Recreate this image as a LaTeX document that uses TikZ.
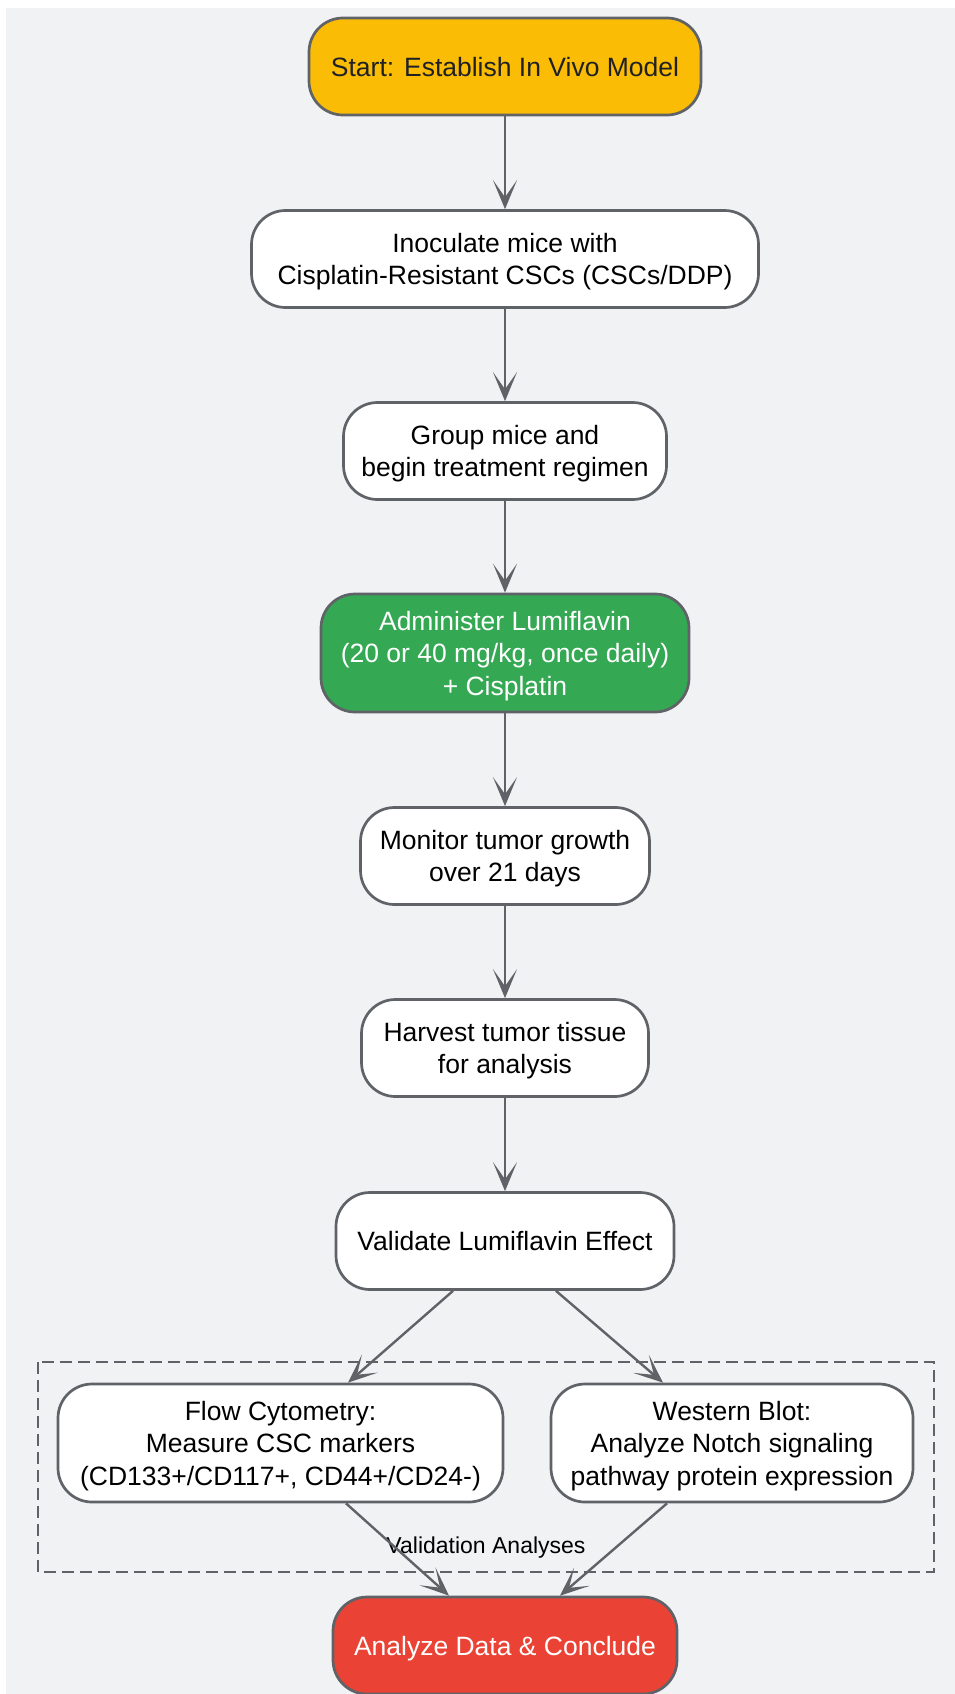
\documentclass[tikz,border=0pt]{standalone}
\usepackage{fontspec}
\setmainfont{Liberation Sans}
\usetikzlibrary{arrows.meta}
\definecolor{bgc}{HTML}{F1F2F4}
\definecolor{edge}{HTML}{5F6368}
\definecolor{startc}{HTML}{FBBC05}
\definecolor{greenc}{HTML}{34A853}
\definecolor{redc}{HTML}{EA4335}
\definecolor{txt}{HTML}{202124}
\tikzset{
  box/.style={draw=edge, line width=2.7pt, rounded corners=34pt, fill=white,
    align=center, inner sep=0pt, text=black, text depth=0pt,
    font=\fontsize{26.5}{32.4}\selectfont},
  conn/.style={draw=edge, line width=2.4pt,
    -{Stealth[length=29pt,width=24pt,inset=17pt]}},
}
\begin{document}
\begin{tikzpicture}[x=1pt,y=-1pt]
\useasboundingbox (0,0) rectangle (955,1694);
\fill[bgc] (6,8) rectangle (955,1694);
% dashed group
\draw[edge, line width=2.8pt, dash pattern=on 12pt off 6pt] (38,1362) rectangle (934,1572);
\node[font=\fontsize{23}{27}\selectfont, text=black] (lbl) at (486,1548) {Validation Analyses};
% nodes
\node[box, fill=startc, text=txt, minimum width=392pt, minimum height=97pt] (start) at (505,66.5) {Start: Establish In Vivo Model};
\node[box, minimum width=507pt, minimum height=97pt] (inoc) at (505,259) {Inoculate mice with\\Cisplatin-Resistant CSCs (CSCs/DDP)};
\node[box, minimum width=323pt, minimum height=97pt] (group) at (505,451) {Group mice and\\begin treatment regimen};
\node[box, fill=greenc, text=white, minimum width=368pt, minimum height=118pt] (admin) at (505,653) {Administer Lumiflavin\\(20 or 40 mg/kg, once daily)\\+ Cisplatin};
\node[box, minimum width=289pt, minimum height=97pt] (mon) at (505,856) {Monitor tumor growth\\over 21 days};
\node[box, minimum width=287pt, minimum height=97pt] (harv) at (505,1048) {Harvest tumor tissue\\for analysis};
\node[box, minimum width=338pt, minimum height=97pt] (val) at (505,1241) {Validate Lumiflavin Effect};
\node[box, minimum width=445pt, minimum height=118pt] (flow) at (280.5,1443) {Flow Cytometry:\\Measure CSC markers\\(CD133+/CD117+, CD44+/CD24-)};
\node[box, minimum width=362pt, minimum height=118pt] (wb) at (732,1443) {Western Blot:\\Analyze Notch signaling\\pathway protein expression};
\node[box, fill=redc, text=white, minimum width=344pt, minimum height=97pt] (end) at (505,1645.5) {Analyze Data \& Conclude};
% connectors
\draw[conn] (start) -- (inoc);
\draw[conn] (inoc) -- (group);
\draw[conn] (group) -- (admin);
\draw[conn] (admin) -- (mon);
\draw[conn] (mon) -- (harv);
\draw[conn] (harv) -- (val);
\draw[conn] ([xshift=-52pt]val.south) -- ([xshift=67.5pt]flow.north);
\draw[conn] ([xshift=51pt]val.south) -- ([xshift=-69pt]wb.north);
\draw[conn] ([xshift=65.5pt]flow.south) -- ([xshift=-56pt]end.north);
\draw[conn] ([xshift=-65pt]wb.south) -- ([xshift=55pt]end.north);
\end{tikzpicture}
\end{document}
